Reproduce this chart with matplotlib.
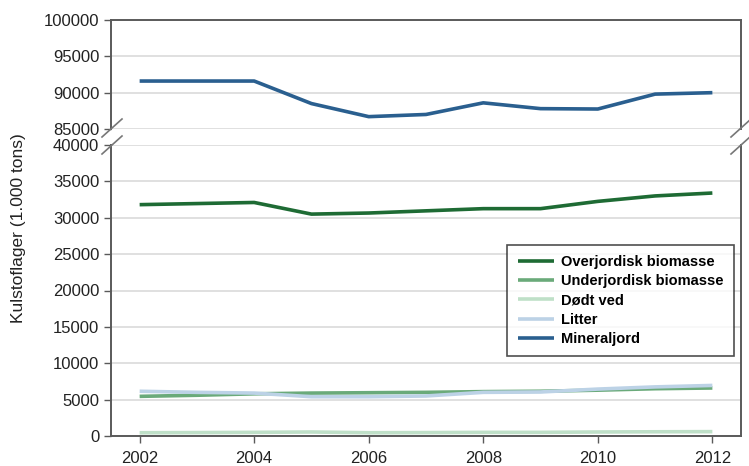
import matplotlib.pyplot as plt
from matplotlib.lines import Line2D

plt.rcParams['font.family'] = ['Liberation Sans', 'DejaVu Sans']

# Data (1.000 tons)
years = [2002, 2003, 2004, 2005, 2006, 2007, 2008, 2009, 2010, 2011, 2012]
overjordisk = [31800, 31950, 32100, 30500, 30650, 30950, 31250, 31250, 32250, 33000, 33400]
underjordisk = [5450, 5600, 5800, 5900, 5950, 6000, 6100, 6150, 6300, 6500, 6600]
doedt_ved = [450, 470, 500, 550, 450, 470, 500, 500, 550, 580, 600]
litter = [6150, 6000, 5900, 5400, 5400, 5500, 6000, 6050, 6450, 6750, 6950]
mineraljord = [91600, 91600, 91600, 88500, 86700, 87000, 88600, 87800, 87750, 89800, 90000]

series = [
    ('Overjordisk biomasse', overjordisk, '#1e6b34'),
    ('Underjordisk biomasse', underjordisk, '#6aaa7a'),
    ('Dødt ved', doedt_ved, '#bfe0c8'),
    ('Litter', litter, '#bcd2e6'),
    ('Mineraljord', mineraljord, '#2a5f8f'),
]

W, H = 749, 466
fig = plt.figure(figsize=(W / 100, H / 100), dpi=100)

def px_axes(left, top, right, bottom):
    return fig.add_axes([left / W, 1 - bottom / H, (right - left) / W, (bottom - top) / H])

# broken y axis: upper part for mineraljord, lower part for the rest
ax_top = px_axes(111, 20, 741, 129)
ax_bot = px_axes(111, 145, 741, 436)

spine_col = '#5a5a5a'
for ax in (ax_top, ax_bot):
    for name, vals, col in series:
        ax.plot(years, vals, color=col, lw=2.6, label=name, solid_capstyle='butt')
    ax.set_xlim(2001.5, 2012.5)
    ax.grid(axis='y', color='#dddddd', lw=1.3)
    ax.set_axisbelow(True)
    for s in ax.spines.values():
        s.set_color(spine_col)
        s.set_linewidth(1.4)
    ax.tick_params(axis='both', labelsize=12, labelcolor='#222222', color=spine_col,
                   length=5, width=1, direction='out')
    ax.tick_params(axis='x', pad=6)

ax_top.set_ylim(85000, 100000)
ax_top.set_yticks([85000, 90000, 95000, 100000])
ax_top.spines['bottom'].set_visible(False)
ax_top.tick_params(axis='x', bottom=False, labelbottom=False)

ax_bot.set_ylim(0, 40000)
ax_bot.set_yticks(range(0, 40001, 5000))
ax_bot.spines['top'].set_visible(False)
ax_bot.set_xticks(range(2002, 2013, 2))

fig.text(19 / W, 1 - 228 / H, 'Kulstoflager (1.000 tons)', rotation=90,
         ha='center', va='center', fontsize=12.5, color='#222222')

leg = ax_bot.legend(loc='upper right', bbox_to_anchor=(0.989, 0.656), borderaxespad=0,
                    frameon=True, fancybox=False, prop={'weight': 'bold', 'size': 10.5},
                    handlelength=2.5, borderpad=0.7, labelspacing=0.35, handletextpad=0.5)
leg.get_frame().set_edgecolor('#222222')
leg.get_frame().set_linewidth(1.2)

# break marks on both spines
for x in (112, 741):
    for yc in (128, 145):
        fig.add_artist(Line2D([(x - 10) / W, (x + 10) / W],
                              [1 - (yc + 9) / H, 1 - (yc - 9) / H],
                              color='#777777', lw=1.2))

fig.savefig('out.png', dpi=100)
